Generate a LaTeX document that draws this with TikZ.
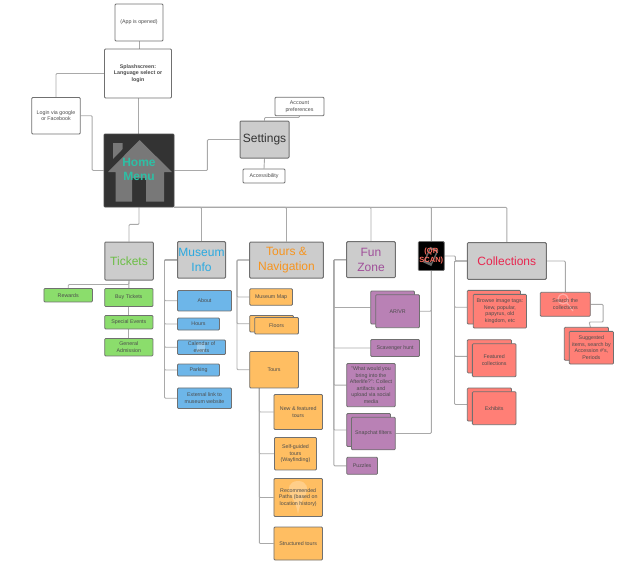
\documentclass[tikz,border=0pt]{standalone}
\usepackage{fontspec}
\setmainfont{Liberation Sans}
\usetikzlibrary{backgrounds}

\definecolor{boxgrey}{HTML}{CCCCCC}
\definecolor{linegrey}{HTML}{A9A9A9}
\definecolor{edgegrey}{HTML}{707070}
\definecolor{ticketgreen}{HTML}{8BDD6C}
\definecolor{infoblue}{HTML}{6DB6E9}
\definecolor{tourorange}{HTML}{FFBE62}
\definecolor{funpurple}{HTML}{B981B5}
\definecolor{collred}{HTML}{FF7F76}
\definecolor{hometeal}{HTML}{2EBFA5}
\definecolor{ticketsgreen}{HTML}{6CBE45}
\definecolor{museumblue}{HTML}{29A9E0}
\definecolor{toursorange}{HTML}{F7941E}
\definecolor{funviolet}{HTML}{A0509A}
\definecolor{collcrimson}{HTML}{E8264F}
\definecolor{qrsalmon}{HTML}{FF6F61}

\begin{document}
\begin{tikzpicture}[x=1pt,y=-1pt,
box/.style={draw=edgegrey, line width=0.8pt, rounded corners=1pt, inner sep=0pt, align=center, font=\fontsize{5.3}{6.6}\selectfont, text=black!70},
sz/.style 2 args={minimum width=#1pt, minimum height=#2pt},
overtext/.style={inner sep=0pt, align=center, font=\fontsize{5.3}{6.6}\selectfont, text=black!70},
plainbox/.style={box, fill=white},
sectionbox/.style={box, fill=boxgrey, font=\fontsize{12}{14.5}\selectfont, line width=1pt},
ticketbox/.style={box, fill=ticketgreen},
infobox/.style={box, fill=infoblue},
tourbox/.style={box, fill=tourorange},
funbox/.style={box, fill=funpurple},
collbox/.style={box, fill=collred},
link/.style={draw=linegrey, line width=0.9pt, rounded corners=1pt}]
\useasboundingbox (0,0) rectangle (644,566);

% top of the app
\node[plainbox, sz={48}{37}] (opened) at (139,22.5) {(App is opened)};
\node[plainbox, sz={67}{49}, font=\fontsize{5.3}{6.6}\selectfont\bfseries] (splash) at (138,73.5) {Splashscreen:\\Language select or\\login};
\node[plainbox, sz={48.5}{36.5}] (login) at (56,115.7) {Login via google\\or Facebook};
\node[box, sz={70}{73}, fill=black!80, draw=black!70] (home) at (139,170.5) {};
\fill[black!53] (113,143) -- (122.7,143) -- (122.7,149) -- (113,159) -- cycle;
\fill[black!53] (139.5,140) -- (172,172) -- (164,172) -- (164,201.7) -- (146,201.7) -- (146,178) -- (132,178) -- (132,201.7) -- (115.7,201.7) -- (115.7,172) -- (108,172) -- cycle;
\node[font=\fontsize{12}{14.5}\selectfont\bfseries, text=hometeal, align=center] (hometext) at (139,169.5) {Home\\Menu};
\node[sectionbox, sz={49}{37}, text=black!80] (settings) at (264.5,139.5) {Settings};
\node[plainbox, sz={49}{18.5}] (account) at (299.5,106.5) {Account\\preferences};
\node[plainbox, sz={42}{14}] (access) at (264,176) {Accessibility};

% main sections
\node[sectionbox, sz={48.5}{38}, text=ticketsgreen] (tickets) at (129,261) {Tickets};
\node[sectionbox, sz={48}{36.5}, text=museumblue] (museum) at (201.5,259.8) {Museum\\Info};
\node[sectionbox, sz={73.6}{36}, text=toursorange] (tours) at (286.5,260) {Tours \&\\Navigation};
\node[sectionbox, sz={48.6}{36}, text=funviolet] (fun) at (371,259.7) {Fun\\Zone};
\node[box, sz={26}{29}, fill=black] (qr) at (431.3,256) {};
\fill[black!60, rotate around={-25:(431,256)}] (426.5,248) rectangle (435.5,265);
\fill[black, rotate around={-25:(431,256)}] (428,250) rectangle (434,262);
\node[font=\fontsize{7.5}{9}\selectfont\bfseries, text=qrsalmon, align=center] (qrtext) at (431.3,256) {(QR\\SCAN)};
\node[sectionbox, sz={79}{36.6}, text=collcrimson] (coll) at (506.8,261) {Collections};

% tickets
\node[ticketbox, sz={48.5}{13.5}] (rewards) at (68.2,295.2) {Rewards};
\node[ticketbox, sz={48.3}{18}] (buy) at (128.8,297.5) {Buy Tickets};
\node[ticketbox, sz={48.3}{13.5}] (special) at (128.8,322.2) {Special Events};
\node[ticketbox, sz={48.3}{17.5}] (general) at (128.8,347.2) {General\\Admission};

% museum info
\node[infobox, sz={54}{20.5}] (about) at (204.5,300.7) {About};
\node[infobox, sz={42}{12}] (hours) at (198.5,324) {Hours};
\node[infobox, sz={48}{14.5}] (calendar) at (201.5,347.2) {};
\fill[white, opacity=.3] (197,342.5) rectangle (205,352);
\node[overtext] (caltext) at (201.5,347.2) {Calendar of\\events};
\node[infobox, sz={42}{12}] (parking) at (198.5,370) {Parking};
\node[infobox, sz={54}{20.5}] (external) at (204.5,398.2) {External link to\\museum website};

% tours and navigation
\node[tourbox, sz={42.8}{16.5}] (map) at (271.1,297) {Museum Map};
\node[tourbox, sz={43.8}{16.5}] (floorsbk) at (271.6,323.7) {};
\node[tourbox, sz={43.8}{16.5}] (floors) at (276.6,325.7) {Floors};
\node[tourbox, sz={48.8}{36.5}] (tourlist) at (274.1,369.7) {Tours};
\node[tourbox, sz={48.5}{35}] (featured) at (298.2,412) {New \& featured\\tours};
\node[tourbox, sz={42}{32.5}] (selfguided) at (295.5,453.7) {Self-guided\\tours\\(Wayfinding)};
\node[tourbox, sz={48.5}{38}] (recommended) at (298.2,497.5) {};
\fill[white, opacity=.25] (298,481) .. controls (289,481) and (287,489) .. (290,494) .. controls (293,499) and (296,503) .. (298,514) .. controls (300,503) and (303,499) .. (306,494) .. controls (309,489) and (307,481) .. (298,481) -- cycle;
\node[overtext] (rectext) at (298.2,497.5) {Recommended\\Paths (based on\\location history)};
\node[tourbox, sz={48.5}{33}] (structured) at (298.2,543.5) {Structured tours};

% fun zone
\node[funbox, sz={43.8}{33}] (arvrbk) at (392.6,307.5) {};
\node[funbox, sz={43.8}{33}] (arvr) at (397.6,311.2) {AR/VR};
\node[funbox, sz={48.8}{17}] (scavenger) at (395.1,348) {Scavenger hunt};
\node[funbox, sz={48.6}{43.2}] (afterlife) at (371,385.1) {"What would you\\bring into the\\Afterlife?": Collect\\artifacts and\\upload via social\\media};
\node[funbox, sz={43.8}{33}] (snapbk) at (368.6,430) {};
\node[funbox, sz={43.8}{32.5}] (snap) at (373.4,433.5) {Snapchat filters};
\node[funbox, sz={30.8}{17}] (puzzles) at (362.1,465.8) {Puzzles};

% collections
\node[collbox, sz={53.2}{33.7}] (tagsbk) at (493.9,307.2) {};
\node[collbox, sz={53.2}{33.7}] (tags) at (499.9,311.2) {Browse image tags:\\New, popular,\\papyrus, old\\kingdom, etc};
\node[collbox, sz={44.2}{33.3}] (featcollbk) at (489.4,356.3) {};
\node[collbox, sz={43.7}{33}] (featcoll) at (494.2,360.2) {Featured\\collections};
\node[collbox, sz={44.2}{33}] (exhibitsbk) at (489.4,404.5) {};
\node[collbox, sz={43.7}{33}] (exhibits) at (494.2,408.2) {Exhibits};
\node[collbox, sz={50}{24}] (search) at (565.3,304.3) {};
\draw[white, opacity=.35, line width=1.2pt] (563,299) circle (5pt) (567,303) -- (573,311);
\node[overtext] (searchtext) at (565.3,304.3) {Search the\\collections};
\node[collbox, sz={44.2}{33}] (suggestbk) at (586.4,343.8) {};
\node[collbox, sz={44.2}{32.7}] (suggest) at (591.4,347.7) {Suggested\\items, search by\\Accession \#'s,\\Periods};

% connectors go behind the boxes
\coordinate (tourspine) at (259.3,388);
\begin{scope}[on background layer]
\draw[link] (opened.south) -- (opened.south|-splash.north);
\draw[link] (splash.south) -- (splash.south|-home.north);
\draw[link] (splash.west) -| (login.north);
\draw[link] (login.east) -- ++(11.5,0) |- (home.west);
\draw[link] (home.east) -- ++(33,0) |- (settings.west);
\draw[link] (settings.north) -- ++(0,-3) -| (account.south);
\draw[link] (settings.south) -- (access.north);

\draw[link] (home.south) -- ++(0,17) -| (tickets.north);
\foreach \sec in {museum,tours,fun,qr,coll}
  \draw[link] (home.south east) -| (\sec.north);

\draw[link] (tickets.south) -- (buy.north);
\draw[link] (tickets.south) -- ++(0,4) -| (rewards.north);
\draw[link] (buy.south) -- (special.north);
\draw[link] (special.south) -- (general.north);

\foreach \sub in {about,hours,calendar,parking,external}
  \draw[link] (museum.west) -- ++(-12.5,0) |- (\sub.west);
\foreach \sub in {map,floorsbk,tourlist}
  \draw[link] (tours.west) -- ++(-12.2,0) |- (\sub.west);
\foreach \sub in {featured,selfguided,recommended,structured}
  \draw[link] (tourspine) |- (\sub.west);
\foreach \sub in {arvrbk,scavenger,afterlife,snapbk,puzzles}
  \draw[link] (fun.west) -- ++(-12.4,0) |- (\sub.west);
\draw[link] (qr.south) |- (arvr.east);
\draw[link] (qr.south) |- (snap.east);
\draw[link] (qr.east) -- ++(10.7,0) |- (coll.west);
\foreach \sub in {tagsbk,featcollbk,exhibitsbk}
  \draw[link] (coll.west) -- ++(-12.3,0) |- (\sub.west);
\draw[link] (coll.east) -| (search.north);
\draw[link] (search.east) -- ++(12.4,0) |- ++(-14,17.7) -- (suggest.north);
\end{scope}
\end{tikzpicture}
\end{document}
